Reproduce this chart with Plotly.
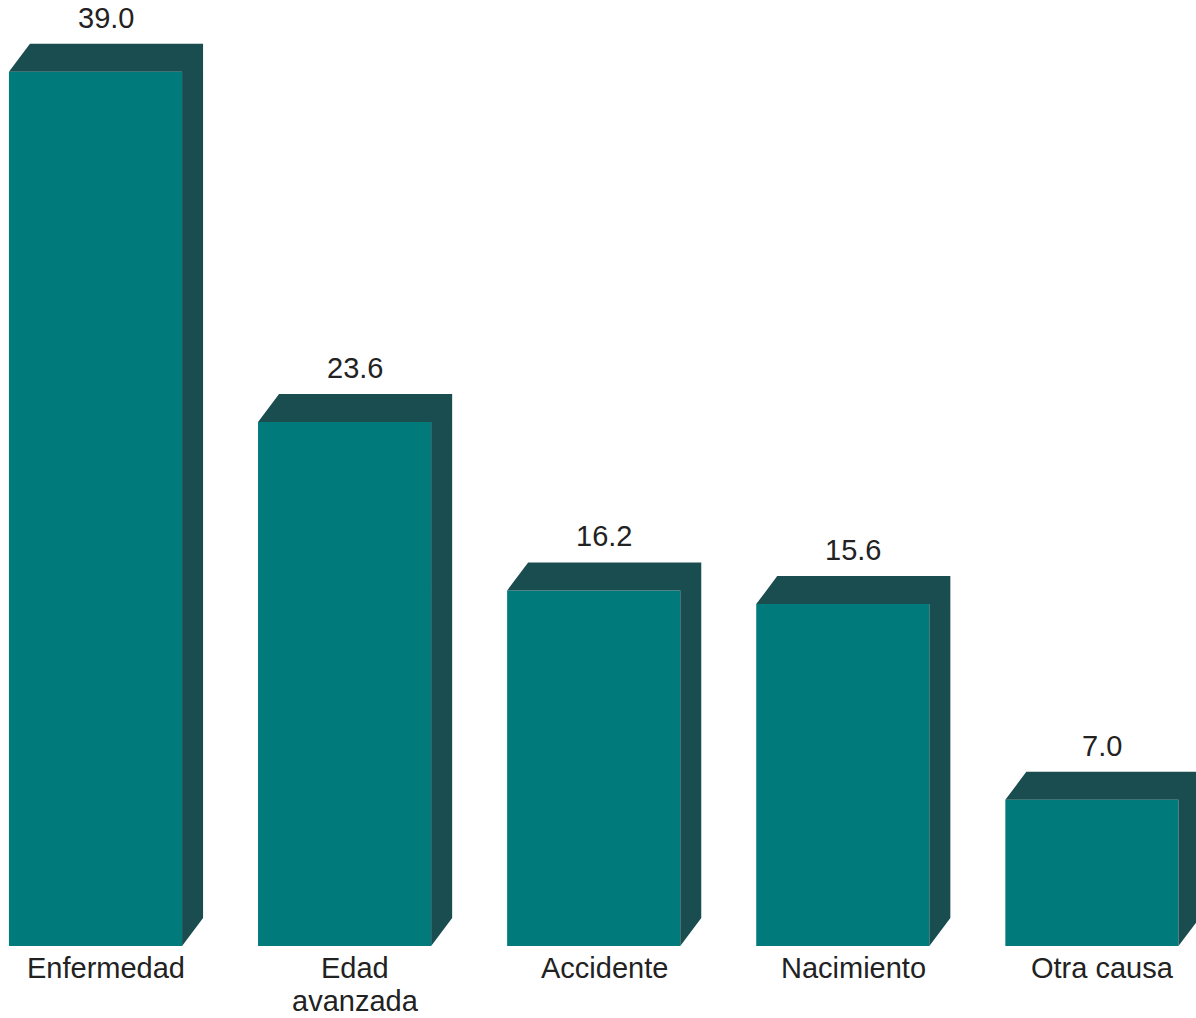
import plotly.graph_objects as go

categories = ["Enfermedad", "Edad<br>avanzada", "Accidente", "Nacimiento", "Otra causa"]
values = [39.0, 23.6, 16.2, 15.6, 7.0]
value_labels = ["39.0", "23.6", "16.2", "15.6", "7.0"]

FRONT = "#007a7a"
DARK = "#1a4d4f"
BAR_W = 0.695
DX = 0.0843      # depth in x (category units)
DY = 1.23        # depth in y (value units)
BASE = 0.57      # floor of the bars
FONT = "Liberation Sans, Arial, sans-serif"

xs = list(range(len(values)))

fig = go.Figure()

# depth faces (top + side), built from the data
px, py = [], []
for x, v in zip(xs, values):
    x0, x1 = x - BAR_W / 2, x + BAR_W / 2
    px += [x0, x0 + DX, x1 + DX, x1, x0, None]
    py += [v, v + DY, v + DY, v, v, None]
    px += [x1, x1 + DX, x1 + DX, x1, x1, None]
    py += [v, v + DY, BASE + DY, BASE, v, None]
fig.add_trace(go.Scatter(x=px, y=py, mode="lines", fill="toself", fillcolor=DARK,
                         line=dict(width=0, color=DARK), hoverinfo="skip"))

# front faces
fig.add_trace(go.Bar(x=xs, y=[v - BASE for v in values], base=BASE, width=BAR_W,
                     marker=dict(color=FRONT, line=dict(width=0))))

annotations = []
for x, v, t in zip(xs, values, value_labels):
    annotations.append(dict(x=x + DX / 2, y=v + DY, xref="x", yref="y", text=t,
                            showarrow=False, yanchor="bottom", yshift=8,
                            font=dict(family=FONT, size=29, color="#222222")))
for x, c in zip(xs, categories):
    for i, line in enumerate(c.split("<br>")):
        annotations.append(dict(x=x + DX / 2, y=BASE, xref="x", yref="y", text=line,
                                showarrow=False, yanchor="top", yshift=-4 - 33 * i,
                                font=dict(family=FONT, size=29, color="#222222")))

fig.update_layout(
    width=1196, height=1018,
    margin=dict(l=0, r=0, t=0, b=0),
    paper_bgcolor="white", plot_bgcolor="white",
    showlegend=False,
    xaxis=dict(range=[-0.3834, 4.4179], visible=False),
    yaxis=dict(range=[-2.593, 42.154], visible=False),
    annotations=annotations,
)

fig.write_html("out.html")
